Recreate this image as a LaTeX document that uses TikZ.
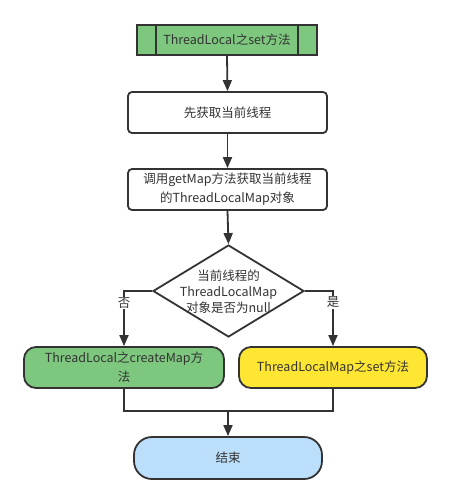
\documentclass[tikz,border=0pt]{standalone}
\usepackage{fontspec}
\setmainfont{Noto Sans CJK SC}
\usetikzlibrary{shapes.geometric,arrows.meta}
\definecolor{lc}{HTML}{333333}
\definecolor{tc}{HTML}{333333}
\definecolor{gfill}{RGB}{126,199,126}
\definecolor{yfill}{RGB}{255,230,51}
\definecolor{bfill}{HTML}{BBDEFB}
\begin{document}
\begin{tikzpicture}[x=1pt,y=-1pt,
  every node/.style={font=\fontsize{12.5}{19}\selectfont, text=tc},
  proc/.style={draw=lc, line width=1.8pt, rounded corners=4pt, fill=white, minimum width=199pt, minimum height=41pt, align=center, inner sep=0pt},
  term/.style={draw=lc, line width=1.8pt, rounded corners=12pt, minimum height=41pt, align=center, inner sep=0pt},
  conn/.style={draw=lc, line width=1.8pt},
  arr/.style={conn, -{Triangle[length=11pt,width=9pt]}},
  lab/.style={fill=white, inner sep=1pt}
]
\useasboundingbox (0,0) rectangle (452,504);
\node[draw=lc, line width=1.8pt, fill=gfill, minimum width=180pt, minimum height=30pt, inner sep=0pt] (top) at (227,40) {ThreadLocal之set方法};
\draw[conn] ([xshift=20pt]top.north west) -- ([xshift=20pt]top.south west);
\draw[conn] ([xshift=-20pt]top.north east) -- ([xshift=-20pt]top.south east);
\node[proc] (b2) at (227.5,112.5) {先获取当前线程};
\node[proc] (b3) at (227.5,189.5) {调用getMap方法获取当前线程\\的ThreadLocalMap对象};
\node[diamond, draw=lc, line width=1.8pt, fill=white, minimum width=151pt, minimum height=92pt, inner sep=0pt] (dia) at (228.5,291) {};
\node[align=center, font=\fontsize{12.5}{16}\selectfont] (diat) at (228.5,292) {当前线程的\\ThreadLocalMap\\对象是否为null};
\node[term, fill=gfill, minimum width=200pt] (L) at (124,367.5) {ThreadLocal之createMap方\\法};
\node[term, fill=yfill, minimum width=188pt] (R) at (333,367.5) {ThreadLocalMap之set方法};
\node[term, fill=bfill, minimum width=188pt, minimum height=42pt, rounded corners=18pt] (E) at (228,458) {结束};
\coordinate (m) at (228,411);
\draw[arr] (top.south) -- (b2.north);
\draw[arr] (b2.south) -- (b3.north);
\draw[arr] (b3.south) -- (dia.north);
\draw[arr] (dia.west) -| (L.north);
\draw[arr] (dia.east) -| (R.north);
\node[lab] (no) at (124,303) {否};
\node[lab] (yes) at (333,302) {是};
\draw[conn] (L.south) |- (m);
\draw[conn] (R.south) |- (m);
\draw[arr] (m) -- (E.north);
\end{tikzpicture}
\end{document}
